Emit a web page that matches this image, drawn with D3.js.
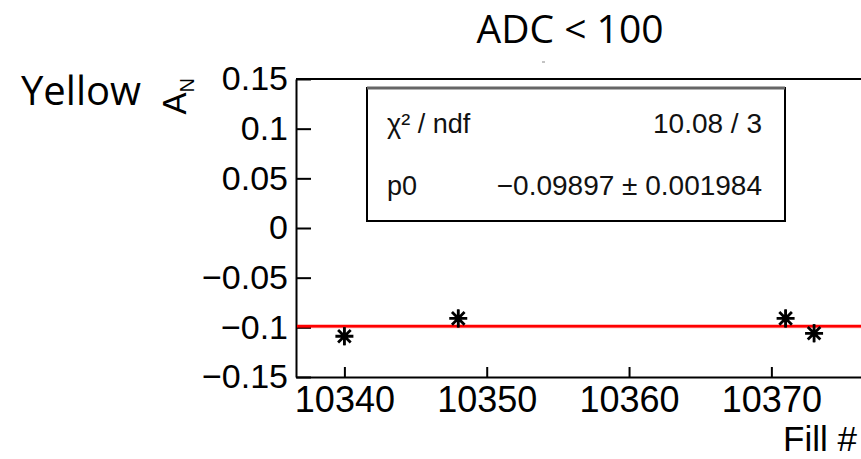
<!DOCTYPE html>
<html>
<head>
<meta charset="utf-8">
<script src="https://cdn.jsdelivr.net/npm/d3@7"></script>
<style>
  body { margin: 0; background: #fff; }
  svg { display: block; }
</style>
</head>
<body>
<div id="chart"></div>
<script>
// data
const fills = [10340, 10348, 10371, 10373];
const asym = [-0.109, -0.091, -0.091, -0.106];
const asymErr = [0.004, 0.004, 0.004, 0.004];
const fitP0 = -0.09897;
const yTicks = [-0.15, -0.1, -0.05, 0, 0.05, 0.1, 0.15];
const xTicks = [10340, 10350, 10360, 10370];
const statRows = [
  ['χ² / ndf', '10.08 / 3'],
  ['p0', '−0.09897 ± 0.001984']
];

const width = 861;
const height = 459;
const rootFont = "'Liberation Sans', Arial, Helvetica, sans-serif";

const svg = d3.select('#chart')
  .append('svg')
  .attr('width', width)
  .attr('height', height);

// frame: left 296, top 79, bottom 377, right edge runs off the page
const x = d3.scaleLinear().domain([10336.6, 10377]).range([296, 871]);
const y = d3.scaleLinear().domain([-0.15, 0.15]).range([377, 79]);

// titles
svg.append('text')
  .attr('x', 570).attr('y', 43)
  .attr('text-anchor', 'middle')
  .attr('font-family', "'Open Sans', sans-serif")
  .attr('font-size', 39)
  .attr('fill', '#000')
  .text('ADC < 100');

svg.append('text')
  .attr('x', 21).attr('y', 105)
  .attr('font-family', "'Open Sans', sans-serif")
  .attr('font-size', 40)
  .attr('fill', '#000')
  .text('Yellow');

// little stray mark under the title
svg.append('line')
  .attr('x1', 542).attr('x2', 545)
  .attr('y1', 62).attr('y2', 62)
  .attr('stroke', '#888').attr('stroke-width', 1);

// top frame line
svg.append('line')
  .attr('x1', x.range()[0]).attr('x2', width)
  .attr('y1', y(0.15)).attr('y2', y(0.15))
  .attr('stroke', '#000').attr('stroke-width', 2);

// y axis (ticks inward)
const yAxis = svg.append('g')
  .attr('transform', `translate(${x.range()[0]},0)`)
  .call(d3.axisLeft(y)
    .tickValues(yTicks)
    .tickFormat(d3.format(''))
    .tickSizeInner(-15)
    .tickSizeOuter(0)
    .tickPadding(8));

// x axis (ticks inward)
const xAxis = svg.append('g')
  .attr('transform', `translate(0,${y.range()[0]})`)
  .call(d3.axisBottom(x)
    .tickValues(xTicks)
    .tickFormat(d3.format('d'))
    .tickSizeInner(-10)
    .tickSizeOuter(0)
    .tickPadding(9));

[yAxis, xAxis].forEach(ax => {
  ax.select('.domain').attr('stroke', '#000').attr('stroke-width', 2);
  ax.selectAll('.tick line').attr('stroke', '#000').attr('stroke-width', 2);
  ax.selectAll('.tick text')
    .attr('fill', '#000')
    .attr('font-family', rootFont);
});
yAxis.selectAll('.tick text').attr('font-size', 34);
xAxis.selectAll('.tick text').attr('font-size', 36);

// axis titles
const yTitle = svg.append('text')
  .attr('transform', `translate(186,78) rotate(-90)`)
  .attr('text-anchor', 'end')
  .attr('font-family', rootFont)
  .attr('font-size', 33)
  .attr('fill', '#000');
yTitle.append('tspan').text('A');
yTitle.append('tspan').attr('font-size', 20).attr('dy', 8).text('N');

svg.append('text')
  .attr('x', 857).attr('y', 451)
  .attr('text-anchor', 'end')
  .attr('font-family', rootFont)
  .attr('font-size', 35)
  .attr('fill', '#000')
  .text('Fill #');

// fit line
svg.append('line')
  .attr('x1', x.range()[0] + 1).attr('x2', width)
  .attr('y1', y(fitP0)).attr('y2', y(fitP0))
  .attr('stroke', '#ff0000').attr('stroke-width', 4)
  .attr('stroke-opacity', 0.35);
svg.append('line')
  .attr('x1', x.range()[0] + 1).attr('x2', width)
  .attr('y1', y(fitP0)).attr('y2', y(fitP0))
  .attr('stroke', '#ff0000').attr('stroke-width', 2.5);

// points: star markers with vertical error bars
const pts = fills.map((f, i) => ({ f, v: asym[i], e: asymErr[i] }));
const pg = svg.append('g')
  .selectAll('g')
  .data(pts)
  .join('g')
  .attr('transform', d => `translate(${x(d.f)},${y(d.v)})`);

pg.append('line')
  .attr('x1', 0).attr('x2', 0)
  .attr('y1', d => y(d.v + d.e) - y(d.v) - 5)
  .attr('y2', d => y(d.v - d.e) - y(d.v) + 5)
  .attr('stroke', '#000').attr('stroke-width', 2);

const r = 9;
pg.append('path')
  .attr('d', `M${-r},0H${r}M0,${-r}V${r}M${-r * 0.7},${-r * 0.7}L${r * 0.7},${r * 0.7}M${-r * 0.7},${r * 0.7}L${r * 0.7},${-r * 0.7}`)
  .attr('stroke', '#000').attr('stroke-width', 2.8)
  .attr('fill', 'none');

// stats box
const box = { x0: 367, y0: 88, x1: 785, y1: 221 };
svg.append('rect')
  .attr('x', box.x0).attr('y', box.y0)
  .attr('width', box.x1 - box.x0).attr('height', box.y1 - box.y0)
  .attr('fill', '#fff')
  .attr('stroke', '#000').attr('stroke-width', 2);
svg.append('line')
  .attr('x1', box.x0).attr('x2', box.x1)
  .attr('y1', box.y0).attr('y2', box.y0)
  .attr('stroke', '#666').attr('stroke-width', 3);

const rowY = [133, 195];
statRows.forEach((row, i) => {
  svg.append('text')
    .attr('x', 387).attr('y', rowY[i])
    .attr('font-family', rootFont)
    .attr('font-size', 27)
    .attr('fill', '#111')
    .text(row[0]);
  svg.append('text')
    .attr('x', 762).attr('y', rowY[i])
    .attr('text-anchor', 'end')
    .attr('font-family', rootFont)
    .attr('font-size', 28)
    .attr('fill', '#111')
    .text(row[1]);
});
</script>
</body>
</html>
